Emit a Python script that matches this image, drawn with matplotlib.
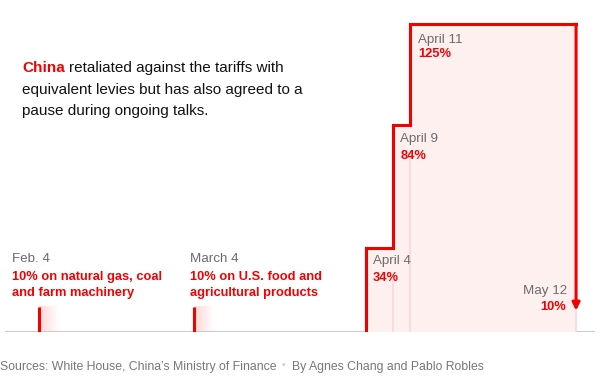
import numpy as np
import pandas as pd
import matplotlib
matplotlib.use('Agg')
import matplotlib.pyplot as plt
import matplotlib.dates as mdates

plt.rcParams['font.family'] = ['Liberation Sans', 'DejaVu Sans']

# tariff data (China's retaliatory tariffs on US goods)
# position dates follow the chart (the 125% step sits at its effective date)
dates = pd.to_datetime(['2025-02-04', '2025-03-04', '2025-04-04', '2025-04-09', '2025-04-12', '2025-05-12'])
date_labels = ['Feb. 4', 'March 4', 'April 4', 'April 9', 'April 11', 'May 12']
rates = [10, 10, 34, 84, 125, 10]
notes = ['10% on natural gas, coal\nand farm machinery', '10% on U.S. food and\nagricultural products',
         '34%', '84%', '125%', '10%']

RED = '#f20000'
PINK = '#fff0f0'
FAINT = '#fbdcdc'
GRAY = '#6b6b6b'

fig = plt.figure(figsize=(6.01, 3.77), dpi=100)
W, H = 601, 377
ax = fig.add_axes([5 / W, 45.5 / H, 590 / W, 319.7 / H])
ax.set_xlim(pd.Timestamp('2025-01-29') - pd.Timedelta(hours=3), pd.Timestamp('2025-05-15') + pd.Timedelta(hours=10))
ax.set_ylim(0, 130)
ax.axis('off')

# baseline
ax.axhline(0, color='#cccccc', lw=1.5, zorder=1)

# early 10% tariffs: short red tick with fading pink tail
grad = np.ones((1, 60, 4))
grad[0, :, 1] = 0.82
grad[0, :, 2] = 0.82
grad[0, :, 3] = np.linspace(0.9, 0, 60)
for d, r in zip(dates[:2], rates[:2]):
    x0 = mdates.date2num(d)
    ax.imshow(grad, extent=[x0, x0 + 3.6, 0, r], aspect='auto', zorder=2, interpolation='bilinear')
    ax.plot([d, d], [0, r], color=RED, lw=2.2, solid_capstyle='butt', zorder=3)

# escalating tariffs: stepped fill and line
step_x = list(dates[2:5]) + [dates[5]]
step_y = rates[2:5] + [rates[4]]
ax.fill_between(step_x, step_y, step='post', color=PINK, lw=0, zorder=1)
for i in range(3, 6):
    top = rates[i - 1] - 14 if i < 5 else rates[5]
    ax.plot([dates[i], dates[i]], [0, top], color=FAINT, lw=1.5, zorder=1.5)
ax.plot([dates[2]] + step_x, [0] + step_y, drawstyle='steps-post', color=RED, lw=2.2, zorder=3,
        solid_joinstyle='miter')
ax.annotate('', xy=(dates[5], rates[5] - 1.5), xytext=(dates[5], rates[4]),
            arrowprops=dict(arrowstyle='-|>', color=RED, lw=2.2, mutation_scale=11, shrinkA=0, shrinkB=0),
            zorder=3)

# labels
fs = 9.6
fsb = 9.3
for d, lab, r, note, dx in zip(dates[:2], date_labels[:2], rates[:2], notes[:2], [-27, -4]):
    ax.annotate(lab, (d, r), xytext=(dx, 48), textcoords='offset pixels', va='center', ha='left',
                color=GRAY, fontsize=fs)
    ax.annotate(note, (d, r), xytext=(dx, 22), textcoords='offset pixels', va='center', ha='left',
                color=RED, fontsize=fsb, fontweight='bold', linespacing=1.4)

for i, (dx, d1, d2) in zip(range(2, 5), [(7, -13, -30), (7, -14, -31), (8, -16, -30)]):
    ax.annotate(date_labels[i], (dates[i], rates[i]), xytext=(dx, d1), textcoords='offset pixels',
                va='center', ha='left', color=GRAY, fontsize=fs)
    ax.annotate(notes[i], (dates[i], rates[i]), xytext=(dx, d2), textcoords='offset pixels',
                va='center', ha='left', color=RED, fontsize=fsb, fontweight='bold')

ax.annotate(date_labels[5], (dates[5], rates[5]), xytext=(-9, 16), textcoords='offset pixels',
            va='center', ha='right', color=GRAY, fontsize=fs)
ax.annotate(notes[5], (dates[5], rates[5]), xytext=(-10, 0), textcoords='offset pixels',
            va='center', ha='right', color=RED, fontsize=fsb, fontweight='bold')

# intro text
r = fig.canvas.get_renderer()
t = fig.text(22 / W, 1 - 68 / H, 'China', color=RED, fontweight='bold', fontsize=11, va='center')
bb = t.get_window_extent(renderer=r)
fig.text((bb.x1 + 4) / W, 1 - 68 / H, 'retaliated against the tariffs with', color='#121212',
         fontsize=11, va='center')
fig.text(22 / W, 1 - 90 / H, 'equivalent levies but has also agreed to a', color='#121212',
         fontsize=11, va='center')
fig.text(22 / W, 1 - 111 / H, 'pause during ongoing talks.', color='#121212', fontsize=11, va='center')

# footer
fig.text(0, 1 - 367 / H, "Sources: White House, China\u2019s Ministry of Finance", color='#777777',
         fontsize=8.8, va='center')
fig.text(283 / W, 1 - 365 / H, '\u2022', color='#cccccc', fontsize=7, va='center', ha='center')
fig.text(292 / W, 1 - 367 / H, 'By Agnes Chang and Pablo Robles', color='#777777', fontsize=8.8, va='center')

fig.savefig('out.png', dpi=100, facecolor='white')
